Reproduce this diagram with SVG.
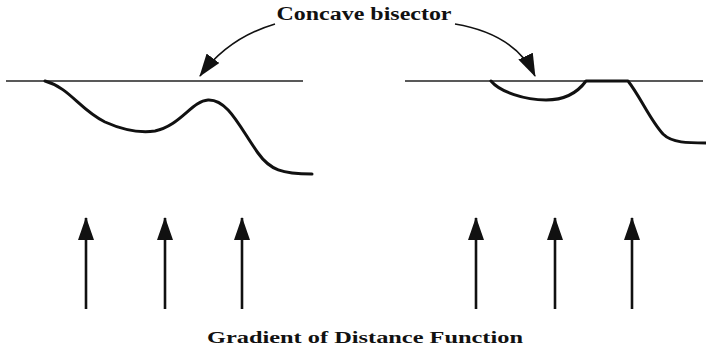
<svg xmlns="http://www.w3.org/2000/svg" width="706" height="352" viewBox="0 0 706 352">
<style>
.lbl{font-family:"Liberation Serif","DejaVu Serif",serif;font-weight:bold;fill:#111}
.base{stroke:#222;stroke-width:1.3;fill:none}
.curve{stroke:#111;stroke-width:3;fill:none;stroke-linecap:round;stroke-linejoin:round}
.conn{stroke:#111;stroke-width:1.6;fill:none}
.grad{stroke:#111;stroke-width:2.6;fill:none}
</style>
<defs>
<marker id="ah" markerWidth="12" markerHeight="10" refX="10" refY="5" orient="auto" markerUnits="userSpaceOnUse">
<path d="M0,0 L12,5 L0,10 Z" fill="#111"/>
</marker>
<marker id="ah2" markerWidth="24" markerHeight="16" refX="22" refY="8" orient="auto" markerUnits="userSpaceOnUse">
<path d="M0,0 L23,8 L0,16 Z" fill="#111"/>
</marker>
</defs>
<rect width="706" height="352" fill="#fff"/>
<g id="left-shape">
<line class="base" x1="6" y1="81" x2="303" y2="81"/>
<path class="curve" d="M45,81 C70,88 80,110 105,122 C125,131 140,133 155,131 C180,126 192,101 208,100 C228,99 240,128 258,153 C270,170 282,174 312,174"/>
</g>
<g id="right-shape">
<line class="base" x1="405" y1="81" x2="703" y2="81"/>
<path class="curve" d="M491,81 C500,92 525,100 546,100 C565,100 578,92 586,81 L628,81 C640,96 650,120 663,134 C672,143 688,143 706,143"/>
</g>
<g id="title">
<text class="lbl" x="364" y="20" font-size="18" text-anchor="middle" textLength="175" lengthAdjust="spacingAndGlyphs">Concave bisector</text>
</g>
<g id="caption">
<text class="lbl" x="365" y="343" font-size="17" text-anchor="middle" textLength="316" lengthAdjust="spacingAndGlyphs">Gradient of Distance Function</text>
</g>
<g id="gradient-arrows">
<line class="grad" x1="86" y1="309" x2="86" y2="218" marker-end="url(#ah2)"/>
<line class="grad" x1="165" y1="309" x2="165" y2="218" marker-end="url(#ah2)"/>
<line class="grad" x1="242" y1="309" x2="242" y2="218" marker-end="url(#ah2)"/>
<line class="grad" x1="476" y1="309" x2="476" y2="218" marker-end="url(#ah2)"/>
<line class="grad" x1="555" y1="309" x2="555" y2="218" marker-end="url(#ah2)"/>
<line class="grad" x1="632" y1="309" x2="632" y2="218" marker-end="url(#ah2)"/>
</g>
<g id="connectors">
<path class="conn" d="M275,24 Q228,38 200,76" marker-end="url(#ah2)"/>
<path class="conn" d="M455,24 Q515,34 535,76" marker-end="url(#ah2)"/>
</g>
</svg>
